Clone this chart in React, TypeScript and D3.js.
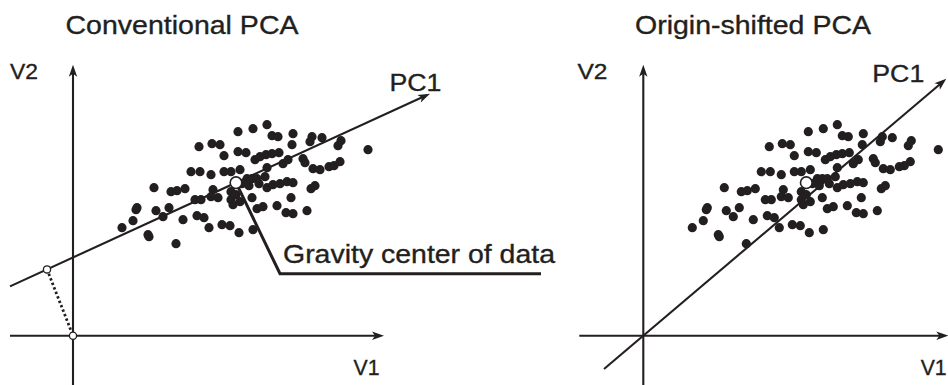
import React from "react";
import * as d3 from "d3";

// Observations (V1, V2), shared by both panels
const V1 = [
  16.5, 18.0, 19.4, 19.9, 20.5, 22.0, 21.9, 23.9, 23.7, 24.9,
  26.8, 26.5, 29.5, 12.6, 13.9, 14.7, 15.1, 16.5, 17.3, 18.2,
  18.7, 19.3, 19.9, 20.6, 19.4, 21.0, 21.5, 23.0, 23.2, 24.0,
  24.7, 25.6, 26.1, 26.7, 11.8, 12.7, 13.8, 15.1, 15.8, 16.7,
  17.4, 17.9, 18.4, 19.2, 19.4, 20.0, 20.7, 21.4, 22.0, 23.8,
  24.2, 8.1, 9.8, 10.4, 11.2, 14.0, 15.8, 12.2, 12.8, 13.8,
  14.5, 15.8, 16.0, 16.7, 17.9, 18.4, 19.0, 20.4, 21.8, 21.3,
  22.0, 23.4, 6.4, 6.3, 8.3, 9.6, 9.0, 11.0, 12.4, 13.1,
  6.0, 4.9, 7.5, 7.6, 10.3, 13.6, 14.9, 15.7, 16.6, 18.0,
  16.9, 17.6, 18.6, 16.3,
];
const V2 = [
  20.4, 20.7, 21.1, 20.0, 19.9, 20.2, 19.1, 19.9, 19.4, 19.8,
  19.5, 19.0, 18.6, 18.9, 19.2, 19.1, 18.0, 18.4, 18.3, 17.6,
  17.9, 18.1, 18.2, 18.3, 16.8, 17.2, 17.6, 17.7, 17.3, 16.7,
  16.6, 16.9, 17.0, 17.4, 16.4, 16.4, 16.1, 16.4, 16.4, 16.6,
  15.7, 15.7, 15.7, 15.9, 14.8, 15.1, 15.2, 15.4, 15.3, 14.7,
  15.0, 14.8, 14.4, 14.5, 14.7, 14.6, 14.4, 13.6, 13.6, 13.9,
  13.8, 13.6, 13.1, 13.4, 13.8, 12.7, 12.9, 13.0, 13.8, 12.3,
  12.2, 12.5, 12.8, 12.6, 12.5, 12.8, 11.9, 11.6, 12.0, 11.8,
  11.5, 10.8, 10.1, 9.9, 9.2, 10.8, 11.1, 11.0, 10.3, 10.6,
  15.2, 15.0, 15.2, 14.1,
];

// Gravity center of the data
const CENTER: [number, number] = [16.3, 15.3];

// PC1 slopes (V2 per V1)
const PC1_SLOPE_CONVENTIONAL = 0.4586;
const PC1_SLOPE_SHIFTED = 0.848;

const TITLES = ["Conventional PCA", "Origin-shifted PCA"];
const CENTER_LABEL = "Gravity center of data";

const UNIT = 10; // px per data unit
const AXIS_Y = 335.7;
const INK = "#231f20";

function arrowHead(x1: number, y1: number, x2: number, y2: number) {
  const dx = x2 - x1;
  const dy = y2 - y1;
  const len = Math.hypot(dx, dy);
  const ux = dx / len;
  const uy = dy / len;
  const nx = -uy;
  const ny = ux;
  const L = 12;
  const W = 4.2;
  const N = 9;
  const p = d3.path();
  p.moveTo(x2, y2);
  p.lineTo(x2 - L * ux + W * nx, y2 - L * uy + W * ny);
  p.lineTo(x2 - N * ux, y2 - N * uy);
  p.lineTo(x2 - L * ux - W * nx, y2 - L * uy - W * ny);
  p.closePath();
  return p.toString();
}

function Arrow({ x1, y1, x2, y2, sw = 2.1 }: { x1: number; y1: number; x2: number; y2: number; sw?: number }) {
  const len = Math.hypot(x2 - x1, y2 - y1);
  const k = (len - 8) / len;
  return (
    <g>
      <line x1={x1} y1={y1} x2={x1 + (x2 - x1) * k} y2={y1 + (y2 - y1) * k} stroke={INK} strokeWidth={sw} />
      <path d={arrowHead(x1, y1, x2, y2)} fill={INK} />
    </g>
  );
}

const FONT = "'Liberation Sans', Arial, Helvetica, sans-serif";

function Label({ x, y, text, size, width }: { x: number; y: number; text: string; size: number; width: number }) {
  return (
    <text
      x={x}
      y={y}
      fontFamily={FONT}
      fontSize={size}
      fill={INK}
      stroke={INK}
      strokeWidth={0.35}
      textLength={width}
      lengthAdjust="spacingAndGlyphs"
    >
      {text}
    </text>
  );
}

function Panel({ ox, shifted }: { ox: number; shifted: boolean }) {
  const x = d3.scaleLinear().domain([0, 1]).range([ox, ox + UNIT]);
  const y = d3.scaleLinear().domain([0, 1]).range([AXIS_Y, AXIS_Y - UNIT]);

  const pcLine = shifted
    ? (v: number) => PC1_SLOPE_SHIFTED * v
    : (v: number) => CENTER[1] + PC1_SLOPE_CONVENTIONAL * (v - CENTER[0]);
  const pcFrom = shifted ? -3.93 : -6.3;
  const pcTo = shifted ? 30.3 : 35.7;

  const v1Start = shifted ? -6.4 : -6.3;
  const v1End = shifted ? 30.5 : 31.1;

  const foot = -2.6;

  return (
    <g>
      {/* axes */}
      <Arrow x1={x(v1Start)} y1={y(0)} x2={x(v1End)} y2={y(0)} />
      <Arrow x1={x(0)} y1={y(-4.95)} x2={x(0)} y2={y(27.1)} />
      {/* PC1 */}
      <Arrow x1={x(pcFrom)} y1={y(pcLine(pcFrom))} x2={x(pcTo)} y2={y(pcLine(pcTo))} />

      {/* data points */}
      {V1.map((v, i) => (
        <circle key={i} cx={x(v)} cy={y(V2[i])} r={4.6} fill={INK} />
      ))}

      {!shifted && (
        <g>
          {/* projection of the origin onto PC1 */}
          <line
            x1={x(foot)}
            y1={y(pcLine(foot))}
            x2={x(0)}
            y2={y(0)}
            stroke={INK}
            strokeWidth={2.8}
            strokeDasharray="2.4 2.4"
          />
          <circle cx={x(foot)} cy={y(pcLine(foot))} r={3.6} fill="#fff" stroke={INK} strokeWidth={1.3} />
          <circle cx={x(0)} cy={y(0)} r={3.6} fill="#fff" stroke={INK} strokeWidth={1.3} />
          {/* leader to the center label */}
          <polyline
            points={[
              [x(CENTER[0]), y(CENTER[1])],
              [x(20.7), y(6.2)],
              [x(46.8), y(6.2)],
            ]
              .map((p) => p.join(","))
              .join(" ")}
            fill="none"
            stroke={INK}
            strokeWidth={3}
          />
        </g>
      )}

      <circle cx={x(CENTER[0])} cy={y(CENTER[1])} r={5.8} fill="#fff" stroke={INK} strokeWidth={1.6} />
    </g>
  );
}

export default function App() {
  return (
    <svg
      width={948}
      height={385}
      viewBox="0 0 948 385"
      style={{ position: "absolute", left: 0, top: 0, background: "#fff" }}
    >
      <rect width={948} height={385} fill="#fff" />
      <Panel ox={73} shifted={false} />
      <Panel ox={643.3} shifted={true} />

      <Label x={65.5} y={34} text={TITLES[0]} size={26} width={233} />
      <Label x={635} y={34} text={TITLES[1]} size={26} width={236} />

      <Label x={10} y={79} text="V2" size={22.5} width={28} />
      <Label x={577.5} y={79} text="V2" size={22.5} width={30} />
      <Label x={353.5} y={375} text="V1" size={22.5} width={26} />
      <Label x={920.7} y={375} text="V1" size={22.5} width={26} />

      <Label x={389.5} y={90.7} text="PC1" size={24.5} width={52} />
      <Label x={872.3} y={81.7} text="PC1" size={24.5} width={52} />

      <Label x={283} y={263} text={CENTER_LABEL} size={26} width={272} />
    </svg>
  );
}
